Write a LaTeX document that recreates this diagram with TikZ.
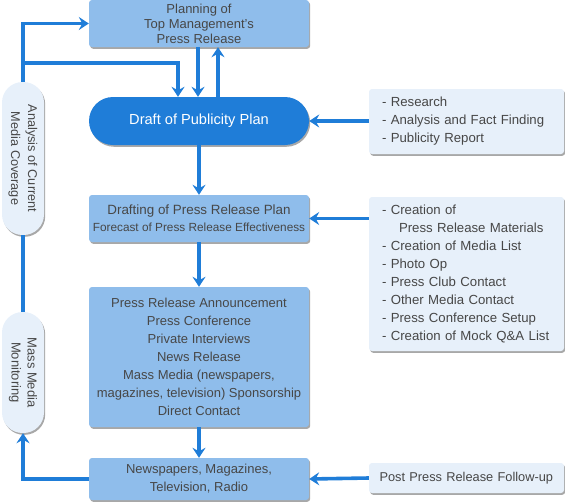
\documentclass[tikz,border=0pt]{standalone}
\usepackage{fontspec}
\setmainfont{Liberation Sans}
\usetikzlibrary{arrows.meta,shadows}
\definecolor{arrowblue}{HTML}{1F7DD8}
\definecolor{boxblue}{HTML}{8FBDEB}
\definecolor{palebox}{HTML}{E7F0FA}
\definecolor{txt}{HTML}{474747}
\definecolor{shade}{HTML}{A8A8A8}
\tikzset{
  shd/.style={drop shadow={shadow xshift=1.2pt, shadow yshift=-1.8pt, fill=shade, opacity=1}},
  bluebox/.style={rectangle, rounded corners=3pt, fill=boxblue, shd, text=txt, align=center, minimum width=220pt, inner sep=0pt},
  palebx/.style={rectangle, rounded corners=3pt, fill=palebox, shd, text=txt, align=left, text width=169pt, inner xsep=13pt, inner ysep=0pt,
     font=\fontsize{13.2pt}{18pt}\selectfont},
  pill/.style={rectangle, rounded corners=20.5pt, fill=palebox, shd, text=txt, align=center, minimum width=42pt, inner sep=0pt},
  arr/.style={draw=arrowblue, line width=3.6pt, -{Stealth[length=10pt, width=13pt, inset=3.5pt]}},
  plain/.style={draw=arrowblue, line width=3.6pt},
}
\begin{document}
\begin{tikzpicture}[x=1pt,y=-1pt]
\useasboundingbox (0,0) rectangle (565,501);
\clip (0,0) rectangle (565,501);
% nodes
\node[bluebox, minimum height=47pt, font=\fontsize{13pt}{15pt}\selectfont] (planning) at (199,23.5)
  {Planning of\\Top Management's\\Press Release};
\node[rectangle, rounded corners=24pt, fill=arrowblue, shd, text=white, minimum width=220pt, minimum height=48pt, inner sep=0pt,
  font=\fontsize{14.6pt}{17pt}\selectfont] (draft) at (199,121) {Draft of Publicity Plan};
\node[bluebox, minimum height=47pt] (drafting) at (199,218.5)
  {{\fontsize{13.4pt}{19pt}\selectfont Drafting of Press Release Plan}\\[5pt]{\fontsize{11.8pt}{13pt}\selectfont Forecast of Press Release Effectiveness}};
\node[bluebox, minimum height=140pt, font=\fontsize{13pt}{18pt}\selectfont] (press) at (199,357)
  {Press Release Announcement\\Press Conference\\Private Interviews\\News Release\\Mass Media (newspapers,\\magazines, television) Sponsorship\\Direct Contact};
\node[bluebox, minimum height=42pt, font=\fontsize{13pt}{18pt}\selectfont] (news) at (199,479)
  {Newspapers, Magazines,\\Television, Radio};
\node[palebx, minimum height=65pt] (research) at (466.5,121.5)
  {- Research\\- Analysis and Fact Finding\\- Publicity Report};
\node[palebx, minimum height=154pt] (creation) at (466.5,274)
  {- Creation of\\\hspace*{17pt}Press Release Materials\\- Creation of Media List\\- Photo Op\\- Press Club Contact\\- Other Media Contact\\- Press Conference Setup\\- Creation of Mock Q\&A List};
\node[palebx, minimum height=30pt, text width=174pt, inner xsep=10.5pt, font=\fontsize{12.8pt}{18pt}\selectfont] (post) at (466.5,478)
  {\mbox{Post Press Release Follow-up}};
\node[pill, minimum height=153pt] (analysis) at (23,158.5) {};
\node[rotate=-90, text=txt, align=center, font=\fontsize{12.7pt}{17pt}\selectfont] (analysistext) at (analysis.center)
  {Analysis of Current\\Media Coverage};
\node[pill, minimum height=121pt] (mass) at (23,372.5) {};
\node[rotate=-90, text=txt, align=center, font=\fontsize{13pt}{16pt}\selectfont] (masstext) at (mass.center)
  {Mass Media\\Monitoring};
% connectors
\coordinate (branch) at (23,63);
\draw[arr] (analysis.north) |- (planning.west);
\draw[arr] (branch) -| ([xshift=-21pt]draft.north);
\draw[arr] ([xshift=-1pt]planning.south) -- ([xshift=-1pt]draft.north);
\draw[arr] ([xshift=19pt]draft.north) -- ([xshift=19pt]planning.south);
\draw[arr] (draft.south) -- (drafting.north);
\draw[arr] (drafting.south) -- (press.north);
\draw[arr] (press.south) -- (news.north);
\draw[arr] (research.west |- draft.east) -- (draft.east);
\draw[arr] (creation.west |- drafting.east) -- (drafting.east);
\draw[arr] (post.west) -- (news.east);
\draw[arr] (news.west) -| (mass.south);
\draw[plain] (mass.north) -- (analysis.south);
\end{tikzpicture}
\end{document}
